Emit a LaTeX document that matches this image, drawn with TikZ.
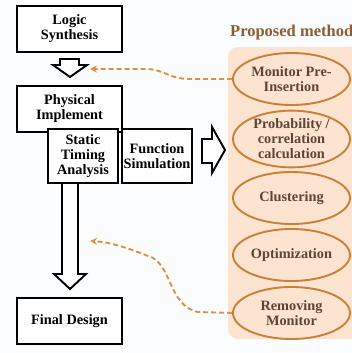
\documentclass[tikz,border=0pt]{standalone}
\usepackage{fontspec}
\setmainfont{Liberation Serif}
\usetikzlibrary{arrows.meta,calc,shapes.geometric}
\definecolor{bgpeach}{HTML}{FCE4D0}
\definecolor{ellstroke}{HTML}{C98038}
\definecolor{elltext}{HTML}{5A4636}
\definecolor{dasharrow}{HTML}{E0903F}
\definecolor{proptext}{HTML}{8E5C2E}
\definecolor{pagebg}{HTML}{FBFCFD}
\begin{document}
\begin{tikzpicture}[x=1pt,y=-1pt,
  every node/.style={font=\fontsize{14.3}{15}\selectfont\bfseries, align=center, inner sep=0pt},
  flowbox/.style={draw=black, line width=1.9pt, fill=white, minimum width=105pt, minimum height=46pt},
  subbox/.style={draw=black, line width=1.9pt, fill=white, minimum width=70pt, minimum height=54pt},
  methodell/.style={draw=ellstroke, line width=1.9pt, fill=bgpeach, ellipse, minimum width=117pt, minimum height=52pt, text=elltext},
  hollow/.style={draw=black, line width=1.9pt, fill=white, line join=miter},
  dasharr/.style={draw=dasharrow, line width=1.9pt, dash pattern=on 5pt off 3pt, -{Stealth[length=7pt,width=7pt]}}
]
\useasboundingbox (0,0) rectangle (352,353);
\fill[pagebg] (0,0) rectangle (352,353);
% proposed method panel
\fill[bgpeach, rounded corners=10pt] (228,47) rectangle (372,339);
\node[text=proptext, font=\fontsize{16.5}{17}\selectfont\bfseries, anchor=west] (prop) at (230,33) {Proposed method};

% left flow
\node[flowbox] (logic) at (69.5,29) {Logic\\Synthesis};
\node[flowbox] (phys) at (69.5,109) {Physical\\Implement};
\node[subbox] (sta) at (83,156) {Static\\Timing\\Analysis};
\node[subbox] (func) at (157,156) {Function\\Simulation};
\node[flowbox] (final) at (69.5,321) {Final Design};

% hollow arrows
\draw[hollow] (60,59) -- (79,59) -- (79,65) -- (87,65) -- (70,77) -- (53,65) -- (60,65) -- cycle;
\draw[hollow] (62,183) -- (78,183) -- (78,274) -- (86,274) -- (70,289) -- (54,274) -- (62,274) -- cycle;
\draw[hollow] (202,139) -- (212,139) -- (212,127) -- (225,150) -- (212,173) -- (212,163) -- (202,163) -- cycle;

% ellipses
\node[methodell] (mon) at (291.5,79) {Monitor Pre-\\Insertion};
\node[methodell] (prob) at (291.5,139) {Probability /\\correlation\\calculation};
\node[methodell] (clus) at (291.5,198) {Clustering};
\node[methodell] (opt) at (291.5,255) {Optimization};
\node[methodell] (rem) at (291.5,313) {Removing\\Monitor};

% dashed arrows
\coordinate (tipA) at (90,69);
\coordinate (tipB) at (90,241);
\draw[dasharr] (mon.west) -- (190,79) .. controls (168,79) and (165,69) .. (145,69) -- (tipA);
\draw[dasharr] (rem.west) -- (198,312) .. controls (168,306) and (172,262) .. (148,256) .. controls (128,248) and (110,242) .. (tipB);
\end{tikzpicture}
\end{document}
